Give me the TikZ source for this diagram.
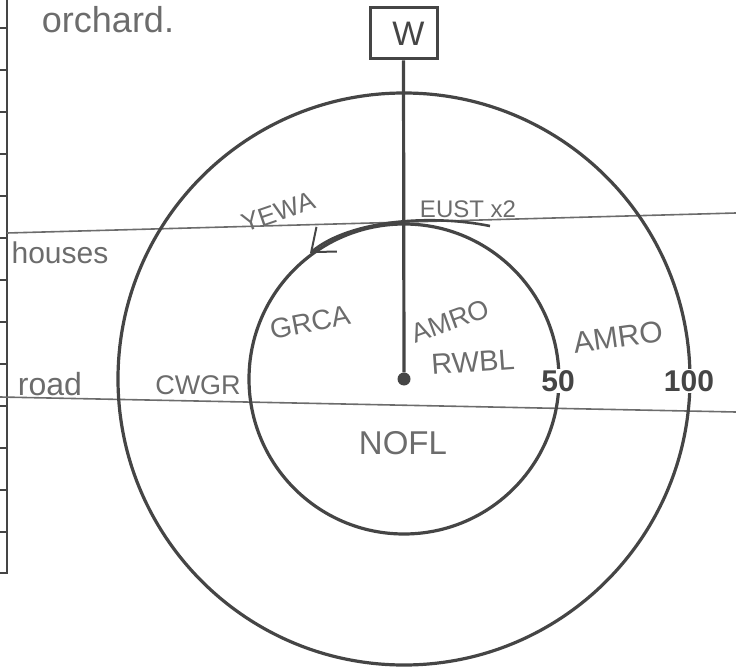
\documentclass[tikz,border=0pt]{standalone}
\usepackage{fontspec}
\setsansfont{Liberation Sans}
\usetikzlibrary{arrows.meta, positioning}

\definecolor{ink}{HTML}{454545}
\definecolor{pencil}{HTML}{6C6C6C}

\tikzset{
  hand/.style={text=pencil, font=\sffamily\fontsize{26}{28}\selectfont, inner sep=0pt},
  dist/.style={fill=white, text=ink, font=\sffamily\bfseries\fontsize{30}{32}\selectfont, inner sep=1.5pt},
  ring/.style={draw=ink, line width=3.2pt},
  edge/.style={draw=pencil, line width=1.6pt}
}

\begin{document}
\begin{tikzpicture}[x=1pt, y=-1pt]
    \useasboundingbox (0,0) rectangle (736,671);

    % site boundary with ticks
    \draw [ink, line width=2pt] (7,0) -- (7,573) -- (0,573);
    \foreach \y in {28,70,...,532}
        \draw [ink, line width=1.2pt] (0,\y) -- (7,\y);

    % houses and road
    \coordinate (houses west) at (7,233);
    \coordinate (houses east) at (736,213);
    \coordinate (road west) at (0,397);
    \coordinate (road east) at (736,412);
    \draw [edge] (houses west) -- (houses east);
    \draw [edge] (road west) -- (road east);

    % count circles
    \coordinate (centre) at (404,379);
    \draw [ring] (centre) circle [radius=286];
    \draw [ring] (centre) circle [radius=155];

    % observer and wind
    \node [draw=ink, line width=3pt, minimum width=67, minimum height=51, text=ink, font=\sffamily\fontsize{34}{36}\selectfont] (wind) at (403.5,33.5) {\hspace{10pt}W};
    \node [circle, fill=ink, inner sep=0pt, minimum size=13] (dot) at (centre) {};
    \draw [ink, line width=3.2pt] (wind.south) -- (dot);

    % flight path
    \coordinate (flight start) at (490,226);
    \coordinate (flight end) at (310,253);
    \draw [ink, line width=2.6pt, -{Straight Barb[length=20pt, width=32pt, line width=2pt]}] (flight start) .. controls (430,214) and (350,220) .. (flight end);

    % distance bands
    \node [dist] (fifty) at (558,381) {50};
    \node [dist] (hundred) at (689,381) {100};

    % labels
    \node [hand, font=\sffamily\fontsize{36}{38}\selectfont] (orchard) at (108,20) {orchard.};
    \node [hand, font=\sffamily\fontsize{30}{32}\selectfont] (houses) at (60,253) {houses};
    \node [hand, font=\sffamily\fontsize{32}{34}\selectfont] (road) at (50,384) {road};
    \node [hand, font=\sffamily\fontsize{27}{29}\selectfont] (cwgr) at (198,385) {CWGR};
    \node [hand, rotate=19] (yewa) at (278,212) {YEWA};
    \node [hand, font=\sffamily\fontsize{24}{26}\selectfont] (eust) at (468,209) {EUST x2};
    \node [hand, font=\sffamily\fontsize{28}{30}\selectfont, rotate=11] (grca) at (310,322) {GRCA};
    \node [hand, font=\sffamily\fontsize{27}{29}\selectfont, rotate=20] (amro inner) at (450,321) {AMRO};
    \node [hand, font=\sffamily\fontsize{29}{31}\selectfont, rotate=4] (rwbl) at (473,362) {RWBL};
    \node [hand, font=\sffamily\fontsize{30}{32}\selectfont, rotate=8] (amro outer) at (618,337) {AMRO};
    \node [hand, font=\sffamily\fontsize{33}{35}\selectfont] (nofl) at (403,443) {NOFL};
\end{tikzpicture}
\end{document}
